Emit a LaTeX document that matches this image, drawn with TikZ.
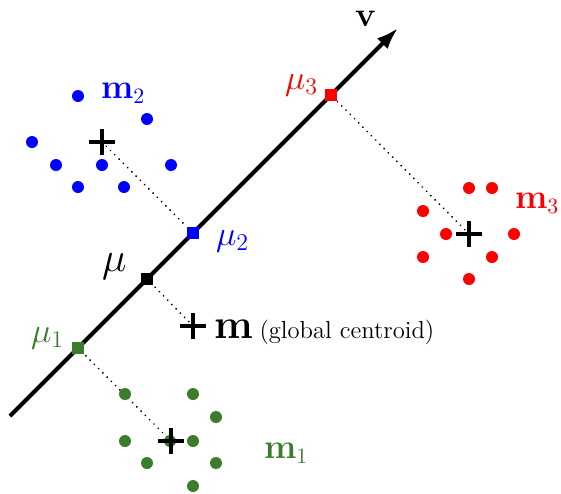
\documentclass[tikz,border=0pt]{standalone}
\usetikzlibrary{arrows.meta}
\definecolor{cblue}{RGB}{0,0,255}
\definecolor{cred}{RGB}{255,0,0}
\definecolor{cgreen}{RGB}{58,125,44}
\begin{document}
\begin{tikzpicture}[x=0.5pt,y=-0.5pt,
  sq/.style={draw=none,fill=#1,minimum size=6pt,inner sep=0pt,outer sep=0pt},
  pt/.style={circle,fill=#1,draw=none,minimum size=6pt,inner sep=0pt},
  axis/.style={line width=2pt,-{Latex[length=11pt,width=7.5pt]}},
  proj/.style={line width=1pt,dash pattern=on 0.01pt off 3pt,line cap=round},
  crs/.style={line width=1.7pt},
  lbl/.style={inner sep=0pt,outer sep=0pt,anchor=base west}]
\useasboundingbox (0,0) rectangle (561,493);
% centroids
\coordinate (c2) at (102,142);
\coordinate (c3) at (469,234);
\coordinate (c1) at (171,441);
\coordinate (cg) at (193,326);
\coordinate (a0) at (10,416);
\coordinate (a1) at (398,28);
% projections on the axis
\node[sq=cgreen] (mu1) at (78,348) {};
\node[sq=black]  (mu)  at (147,279) {};
\node[sq=cblue]  (mu2) at (193,233) {};
\node[sq=cred]   (mu3) at (331,95) {};
% dotted projection lines
\draw[proj] (c2) -- (mu2);
\draw[proj] (c3) -- (mu3);
\draw[proj] (c1) -- (mu1);
\draw[proj] (cg) -- (mu);
% axis
\draw[axis] (a0) -- (a1);
\node[sq=cgreen] at (mu1) {};
\node[sq=black]  at (mu) {};
\node[sq=cblue]  at (mu2) {};
\node[sq=cred]   at (mu3) {};
% blue points
\foreach \p [count=\i] in {(78,96),(147,119),(32,142),(56,165),(102,165),(171,165),(78,187),(124,187)}
  \node[pt=cblue] (b\i) at \p {};
% red points
\foreach \p [count=\i] in {(469,188),(492,188),(423,211),(446,234),(514,234),(423,257),(492,257),(469,279)}
  \node[pt=cred] (r\i) at \p {};
% green points
\foreach \p [count=\i] in {(125,394),(193,394),(216,417),(125,441),(170,441),(193,441),(147,463),(216,463),(193,486)}
  \node[pt=cgreen] (g\i) at \p {};
% crosses
\foreach \c in {c1,c2,c3,cg}{
  \draw[crs] ([xshift=-6.5pt]\c) -- ([xshift=6.5pt]\c);
  \draw[crs] ([yshift=-6.5pt]\c) -- ([yshift=6.5pt]\c);
}
% labels
\node[lbl] (lv) at (355,26) {\fontsize{19}{22}\selectfont$\mathbf{v}$};
\node[lbl,text=cblue] (lm2) at (101,98) {\fontsize{16}{19}\selectfont$\mathbf{m}_2$};
\node[lbl,text=cred] (lm3) at (515,208) {\fontsize{16}{19}\selectfont$\mathbf{m}_3$};
\node[lbl,text=cgreen] (lm1) at (264,458) {\fontsize{16}{19}\selectfont$\mathbf{m}_1$};
\node[lbl] (lmg) at (214,338) {\fontsize{20}{24}\selectfont$\mathbf{m}$\,\fontsize{12.3}{14}\selectfont(global centroid)};
\node[lbl] (lmu) at (102,271) {\fontsize{20}{24}\selectfont$\mu$};
\node[lbl,text=cblue] (lmu2) at (216,245) {\fontsize{17.3}{20}\selectfont$\mu_2$};
\node[lbl,text=cred] (lmu3) at (285,89) {\fontsize{17.3}{20}\selectfont$\mu_3$};
\node[lbl,text=cgreen] (lmu1) at (31,342) {\fontsize{17.3}{20}\selectfont$\mu_1$};
\end{tikzpicture}
\end{document}
